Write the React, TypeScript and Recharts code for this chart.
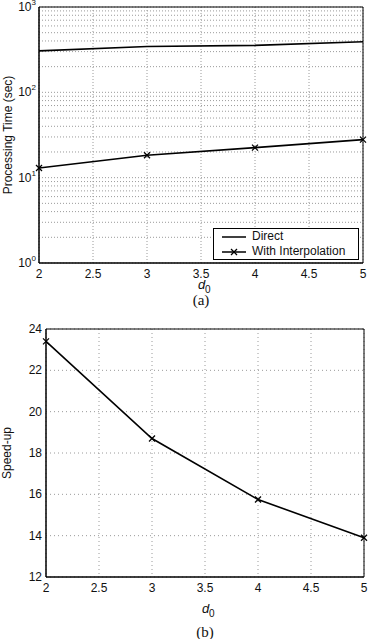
import {
  LineChart,
  Line,
  XAxis,
  YAxis,
  CartesianGrid,
  ReferenceArea,
} from 'recharts';

const D0_VALUES = [2, 3, 4, 5];
const DIRECT_TIME = [306, 345, 355, 392];
const INTERP_TIME = [13.0, 18.3, 22.5, 27.9];
const SPEEDUP = [23.4, 18.7, 15.75, 13.9];

const X_TICKS = [2, 2.5, 3, 3.5, 4, 4.5, 5];
const LOG_DECADES = [1, 10, 100];
const LOG_STEPS = [1, 2, 3, 4, 5, 6, 7, 8, 9];
const LOG_LABELS = [1, 10, 100, 1000];
const SPEEDUP_TICKS = [12, 14, 16, 18, 20, 22, 24];
const SERIES_NAMES = ['Direct', 'With Interpolation'];

const LOG_TICKS = [...LOG_DECADES.flatMap((d) => LOG_STEPS.map((s) => d * s)), 1000];

const timeData = D0_VALUES.map((d, i) => ({ d0: d, direct: DIRECT_TIME[i], interp: INTERP_TIME[i] }));
const speedData = D0_VALUES.map((d, i) => ({ d0: d, speedup: SPEEDUP[i] }));

const FONT = '"Liberation Sans", Arial, sans-serif';
const GRID = '#9a9a9a';

const Cross = (props: any) => {
  const { cx, cy } = props;
  if (cx == null || cy == null) return null;
  const s = 3;
  return (
    <g stroke="#000" strokeWidth={1.3}>
      <line x1={cx - s} y1={cy - s} x2={cx + s} y2={cy + s} />
      <line x1={cx - s} y1={cy + s} x2={cx + s} y2={cy - s} />
    </g>
  );
};

const XTick = (props: any) => {
  const { x, y, payload } = props;
  return (
    <text x={x} y={y} dy={13} textAnchor="middle" fontFamily={FONT} fontSize={12} fill="#111">
      {payload.value}
    </text>
  );
};

const LogTick = (props: any) => {
  const { x, y, payload } = props;
  const v = payload.value;
  if (!LOG_LABELS.includes(v)) return null;
  const exp = Math.round(Math.log10(v));
  return (
    <text x={x - 1} y={y} dy={4} textAnchor="end" fontFamily={FONT} fontSize={12} fill="#111">
      <tspan>10</tspan>
      <tspan dy={-6} fontSize={8}>{exp}</tspan>
    </text>
  );
};

const LinTick = (props: any) => {
  const { x, y, payload } = props;
  return (
    <text x={x - 2} y={y} dy={4} textAnchor="end" fontFamily={FONT} fontSize={12} fill="#111">
      {payload.value}
    </text>
  );
};

const xLabel = (tag: string, dLab: number, dTag: number) => (props: any) => {
  const { viewBox } = props;
  const cx = viewBox.x + viewBox.width / 2;
  const top = viewBox.y;
  return (
    <g>
      <text x={cx - 3} y={top + dLab} fontFamily={FONT} fontSize={13} fontStyle="italic" fill="#111">
        d
      </text>
      <text x={cx + 4} y={top + dLab + 4} fontFamily={FONT} fontSize={10} fill="#111">
        0
      </text>
      <text x={cx} y={top + dTag} textAnchor="middle" fontFamily="'Liberation Serif', 'Times New Roman', serif" fontSize={15} fill="#111">
        {tag}
      </text>
    </g>
  );
};

const yLabel = (text: string, xPos: number) => (props: any) => {
  const { viewBox } = props;
  const cy = viewBox.y + viewBox.height / 2;
  return (
    <text
      x={xPos}
      y={cy}
      transform={`rotate(-90, ${xPos}, ${cy})`}
      textAnchor="middle"
      dominantBaseline="central"
      fontFamily={FONT}
      fontSize={12}
      fill="#111"
    >
      {text}
    </text>
  );
};

const LegendBox = () => (
  <div
    style={{
      position: 'absolute',
      left: 213,
      top: 228,
      width: 146,
      height: 32,
      boxSizing: 'border-box',
      border: '1px solid #000',
      background: '#fff',
      fontFamily: FONT,
      fontSize: 12,
      color: '#111',
      padding: '0 0 0 8px',
      lineHeight: '15px',
    }}
  >
    {SERIES_NAMES.map((name, i) => (
      <div key={name} style={{ display: 'flex', alignItems: 'center' }}>
        <svg width={24} height={10} style={{ marginRight: 6 }}>
          <line x1={0} y1={5} x2={24} y2={5} stroke="#000" strokeWidth={1.5} />
          {i === 1 && <Cross cx={12} cy={5} />}
        </svg>
        {name}
      </div>
    ))}
  </div>
);

export default function App() {
  return (
    <div style={{ position: 'absolute', left: 0, top: 0, width: 369, height: 639, background: '#fff' }}>
      <LineChart width={369} height={320} data={timeData} margin={{ top: 7, right: 6, bottom: 0, left: 0 }}>
        <CartesianGrid stroke={GRID} strokeDasharray="1 2" />
        <XAxis
          dataKey="d0"
          type="number"
          domain={[2, 5]}
          ticks={X_TICKS}
          height={57}
          tick={<XTick />}
          tickLine={false}
          axisLine={{ stroke: '#000' }}
          tickSize={0}
          label={{ content: xLabel('(a)', 26, 42) } as any}
        />
        <YAxis
          type="number"
          scale="log"
          domain={[1, 1000]}
          ticks={LOG_TICKS}
          allowDataOverflow
          width={39}
          interval={0}
          tick={<LogTick />}
          tickLine={false}
          axisLine={{ stroke: '#000' }}
          tickSize={0}
          label={{ content: yLabel('Processing Time (sec)', 8) } as any}
        />
        <ReferenceArea x1={2} x2={5} y1={1} y2={1000} fill="none" stroke="#000" strokeWidth={1} />
        <Line dataKey="direct" stroke="#000" strokeWidth={1.6} dot={false} isAnimationActive={false} />
        <Line dataKey="interp" stroke="#000" strokeWidth={1.6} dot={<Cross />} isAnimationActive={false} />
      </LineChart>
      <LegendBox />
      <LineChart width={369} height={319} data={speedData} margin={{ top: 9, right: 5, bottom: 0, left: 0 }}>
        <CartesianGrid stroke={GRID} strokeDasharray="1 3" />
        <XAxis
          dataKey="d0"
          type="number"
          domain={[2, 5]}
          ticks={X_TICKS}
          height={62}
          tick={<XTick />}
          tickLine={false}
          axisLine={{ stroke: '#000' }}
          tickSize={0}
          label={{ content: xLabel('(b)', 36, 60) } as any}
        />
        <YAxis
          type="number"
          domain={[12, 24]}
          ticks={SPEEDUP_TICKS}
          width={46}
          tick={<LinTick />}
          tickLine={false}
          axisLine={{ stroke: '#000' }}
          tickSize={0}
          label={{ content: yLabel('Speed-up', 7) } as any}
        />
        <ReferenceArea x1={2} x2={5} y1={12} y2={24} fill="none" stroke="#000" strokeWidth={1} />
        <Line dataKey="speedup" stroke="#000" strokeWidth={1.6} dot={<Cross />} isAnimationActive={false} />
      </LineChart>
    </div>
  );
}
